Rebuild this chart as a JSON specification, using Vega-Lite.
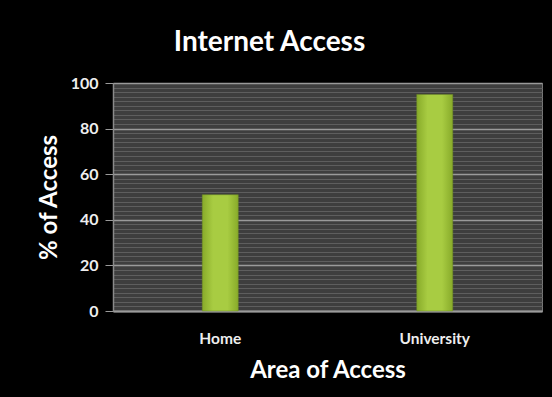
{
  "$schema": "https://vega.github.io/schema/vega-lite/v6.json",
  "autosize": "none",
  "width": 429,
  "height": 228,
  "padding": {"left": 113, "top": 83, "right": 10, "bottom": 86},
  "background": "#000000",
  "title": {
    "text": "Internet Access",
    "color": "#ffffff",
    "font": "Lato",
    "fontSize": 28,
    "fontWeight": "bold",
    "anchor": "middle",
    "dx": -58,
    "offset": 18
  },
  "data": {
    "values": [
      {"area": "Home", "pct": 51},
      {"area": "University", "pct": 95}
    ]
  },
  "mark": {
    "type": "bar",
    "size": 36,
    "stroke": "#6f8f22",
    "strokeWidth": 0.5,
    "color": {
      "gradient": "linear",
      "x1": 0, "x2": 1, "y1": 0, "y2": 0,
      "stops": [
        {"offset": 0, "color": "#88ab2a"},
        {"offset": 0.3, "color": "#a8cc42"},
        {"offset": 0.7, "color": "#a8cc42"},
        {"offset": 1, "color": "#88ab2a"}
      ]
    }
  },
  "encoding": {
    "x": {
      "field": "area",
      "type": "nominal",
      "sort": null,
      "scale": {"paddingInner": 0, "paddingOuter": 0},
      "title": "Area of Access",
      "axis": {
        "labelAngle": 0,
        "labelColor": "#eeeeee",
        "labelFont": "Lato",
        "labelFontSize": 15.5,
        "labelFontWeight": "bold",
        "labelPadding": 20,
        "ticks": false,
        "domainColor": "#9a9a9a",
        "domainWidth": 2,
        "titleColor": "#ffffff",
        "titleFont": "Lato",
        "titleFontSize": 24,
        "titleFontWeight": "bold",
        "titlePadding": 12
      }
    },
    "y": {
      "field": "pct",
      "type": "quantitative",
      "scale": {"domain": [0, 100], "nice": false},
      "title": "% of Access",
      "axis": {
        "values": [0,2,4,6,8,10,12,14,16,18,20,22,24,26,28,30,32,34,36,38,40,42,44,46,48,50,52,54,56,58,60,62,64,66,68,70,72,74,76,78,80,82,84,86,88,90,92,94,96,98,100],
        "labelExpr": "datum.value % 20 === 0 ? datum.label : ''",
        "grid": true,
        "gridColor": {"condition": {"test": "datum.value % 20 === 0", "value": "#9a9a9a"}, "value": "#5e5e5e"},
        "gridWidth": {"condition": {"test": "datum.value % 20 === 0", "value": 1.5}, "value": 1},
        "tickColor": "#9a9a9a",
        "tickSize": 8,
        "tickOpacity": {"condition": {"test": "datum.value % 20 === 0", "value": 1}, "value": 0},
        "domainColor": "#8a8a8a",
        "domainWidth": 1.5,
        "labelColor": "#eeeeee",
        "labelFont": "Lato",
        "labelFontSize": 16,
        "labelFontWeight": "bold",
        "labelPadding": 7,
        "titleColor": "#ffffff",
        "titleFont": "Lato",
        "titleFontSize": 24,
        "titleFontWeight": "bold",
        "titlePadding": 9
      }
    }
  },
  "config": {
    "view": {"fill": "#3e3e3e", "stroke": "#777777", "strokeWidth": 1}
  }
}
